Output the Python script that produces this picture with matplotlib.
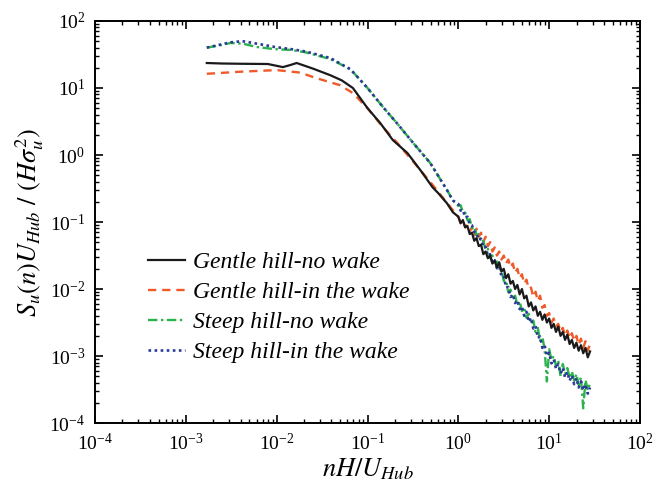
import matplotlib
matplotlib.use('Agg')
import matplotlib.pyplot as plt

plt.rcParams['font.family'] = ['Liberation Serif', 'DejaVu Serif']
plt.rcParams['mathtext.fontset'] = 'stix'
plt.rcParams['axes.unicode_minus'] = False

# low-frequency part of each spectrum (nH/U_hub, S_u U_hub / (H sigma_u^2))
gentle_nowake_f = [0.0017, 0.0025, 0.004, 0.008, 0.0117, 0.0141, 0.0166, 0.025, 0.039,
                   0.052, 0.069, 0.1, 0.138, 0.19, 0.275, 0.38, 0.52, 0.6, 0.75, 0.87]
gentle_nowake_s = [23.6, 23.2, 23.0, 22.8, 20.5, 22.0, 23.6, 19.5, 15.5,
                   13.0, 10.0, 5.0, 3.0, 1.67, 1.07, 0.6, 0.33, 0.27, 0.19, 0.14]

gentle_wake_f = [0.0017, 0.004, 0.01, 0.018, 0.0275, 0.05, 0.069, 0.1, 0.148, 0.214,
                 0.38, 0.52, 0.87]
gentle_wake_s = [16.3, 17.5, 18.5, 17.0, 14.0, 11.0, 8.4, 5.0, 2.6, 1.5,
                 0.6, 0.36, 0.15]

steep_f = [0.0017, 0.0025, 0.0031, 0.0042, 0.006, 0.0095, 0.0145, 0.021, 0.039,
           0.065, 0.1, 0.148, 0.21, 0.32, 0.49, 0.75, 0.87]
steep_nowake_s = [40, 44, 47, 46, 41, 38, 37, 34, 27,
                  19, 10, 5.2, 3.0, 1.5, 0.76, 0.30, 0.21]
steep_wake_s = [40, 45, 48, 50, 46, 41, 38, 35, 28,
                19, 10, 5.2, 3.0, 1.5, 0.76, 0.30, 0.21]

# high-frequency (noisy) part, shared frequency bins
f_hi = [1.0, 1.059, 1.122, 1.189, 1.259, 1.334, 1.413, 1.496, 1.585, 1.679,
        1.778, 1.884, 1.995, 2.113, 2.239, 2.371, 2.512, 2.661, 2.818, 2.985,
        3.162, 3.350, 3.548, 3.758, 3.981, 4.217, 4.467, 4.732, 5.012, 5.309,
        5.623, 5.957, 6.310, 6.683, 7.079, 7.499, 7.943, 8.414, 8.913, 9.441,
        10.0, 10.59, 11.22, 11.89, 12.59, 13.34, 14.13, 14.96, 15.85, 16.79,
        17.78, 18.84, 19.95, 21.13, 22.39, 23.71, 25.12, 26.61, 28.18]

gentle_nowake_hi = [0.120, 0.0955, 0.107, 0.0832, 0.0871, 0.0661, 0.0692, 0.0525, 0.0575, 0.0437,
                    0.0457, 0.0331, 0.0363, 0.0288, 0.0316, 0.0240, 0.0263, 0.0209, 0.0251, 0.0182,
                    0.0200, 0.0145, 0.0166, 0.0120, 0.0132, 0.0100, 0.0115, 0.00832, 0.0100, 0.00724,
                    0.00794, 0.00550, 0.00631, 0.00479, 0.00550, 0.00398, 0.00457, 0.00347, 0.00417, 0.00316,
                    0.00363, 0.00263, 0.00302, 0.00229, 0.00275, 0.00200, 0.00229, 0.00174, 0.00209, 0.00151,
                    0.00174, 0.00132, 0.00158, 0.00120, 0.00145, 0.00110, 0.00132, 0.000955, 0.00117]

gentle_wake_hi = [0.120, 0.0955, 0.105, 0.0832, 0.0912, 0.0724, 0.0832, 0.0631, 0.0794, 0.0603,
                  0.0692, 0.0501, 0.0603, 0.0437, 0.0501, 0.0363, 0.0417, 0.0316, 0.0363, 0.0275,
                  0.0316, 0.0240, 0.0275, 0.0209, 0.0240, 0.0174, 0.0200, 0.0145, 0.0166, 0.0120,
                  0.0138, 0.0100, 0.0105, 0.00759, 0.00912, 0.00661, 0.00794, 0.00525, 0.00575, 0.00398,
                  0.00437, 0.00316, 0.00363, 0.00275, 0.00302, 0.00229, 0.00263, 0.00200, 0.00240, 0.00182,
                  0.00219, 0.00166, 0.00200, 0.00145, 0.00182, 0.00132, 0.00166, 0.00120, 0.00151]

steep_nowake_hi = [0.174, 0.178, 0.141, 0.138, 0.107, 0.110, 0.0813, 0.0851, 0.0631, 0.0661,
                   0.0501, 0.0525, 0.0380, 0.0398, 0.0288, 0.0316, 0.0229, 0.0257, 0.0186, 0.0195,
                   0.0132, 0.0135, 0.00891, 0.00977, 0.00708, 0.00794, 0.00575, 0.00661, 0.00468, 0.00525,
                   0.00372, 0.00427, 0.00302, 0.00339, 0.00229, 0.00263, 0.00170, 0.00191, 0.00126, 0.000417,
                   0.00126, 0.000871, 0.00100, 0.000708, 0.000851, 0.000501, 0.000759, 0.000537, 0.000661, 0.000468,
                   0.000589, 0.000427, 0.000537, 0.000372, 0.000479, 0.000166, 0.000437, 0.000309, 0.000389]

steep_wake_hi = [0.186, 0.148, 0.151, 0.117, 0.120, 0.0912, 0.0891, 0.0708, 0.0692, 0.0537,
                 0.0562, 0.0417, 0.0427, 0.0316, 0.0331, 0.0251, 0.0269, 0.0204, 0.0219, 0.0155,
                 0.0158, 0.0105, 0.0107, 0.00759, 0.00832, 0.00617, 0.00676, 0.00501, 0.00550, 0.00398,
                 0.00457, 0.00324, 0.00372, 0.00257, 0.00282, 0.00186, 0.00195, 0.00132, 0.00145, 0.00100,
                 0.00112, 0.000776, 0.000891, 0.000646, 0.000759, 0.000550, 0.000661, 0.000479, 0.000575, 0.000427,
                 0.000513, 0.000380, 0.000468, 0.000339, 0.000417, 0.000309, 0.000380, 0.000275, 0.000339]

labels = ['Gentle hill-no wake', 'Gentle hill-in the wake',
          'Steep hill-no wake', 'Steep hill-in the wake']


def plot_spectra():
    fig = plt.figure(figsize=(6.54, 4.94), dpi=100)
    ax = fig.add_axes([0.1453, 0.1437, 0.8333, 0.8138])

    ax.plot(steep_f + f_hi, steep_nowake_s + steep_nowake_hi, color='#2bb24c',
            lw=1.7, ls=(0, (4, 1.5, 1, 1.5)), label=labels[2], zorder=3)
    ax.plot(steep_f + f_hi, steep_wake_s + steep_wake_hi, color='#2a3a96',
            lw=1.9, ls=(0, (1, 1.3)), label=labels[3], zorder=4)
    ax.plot(gentle_wake_f + f_hi, gentle_wake_s + gentle_wake_hi, color='#f05a28',
            lw=1.7, ls=(0, (3.5, 2.5)), label=labels[1], zorder=2)
    ax.plot(gentle_nowake_f + f_hi, gentle_nowake_s + gentle_nowake_hi, color='#1a1a1a',
            lw=1.6, ls='-', label=labels[0], zorder=5)

    ax.set_xscale('log')
    ax.set_yscale('log')
    ax.set_xlim(1e-4, 1e2)
    ax.set_ylim(1e-4, 1e2)

    ax.tick_params(which='both', direction='in', top=True, right=True, labelsize=14)
    ax.tick_params(which='major', length=6, width=1.2, pad=7)
    ax.tick_params(which='minor', length=3, width=1.0)
    for sp in ax.spines.values():
        sp.set_linewidth(1.4)

    ax.set_xlabel(r'$nH/U_{Hub}$', fontsize=19)
    ax.set_ylabel(r'$S_u(n)U_{Hub}\ /\ (H\sigma_u^2)$', fontsize=19)
    ax.xaxis.set_label_coords(0.5, -0.082)
    ax.yaxis.set_label_coords(-0.09, 0.5)

    h, l = ax.get_legend_handles_labels()
    order = [3, 2, 0, 1]
    ax.legend([h[i] for i in order], [l[i] for i in order], loc='upper left',
              bbox_to_anchor=(0.058, 0.48), frameon=False, handlelength=1.57,
              handletextpad=0.34, labelspacing=0.36,
              prop={'family': 'Liberation Serif', 'style': 'italic', 'size': 17})

    fig.savefig('out.png', dpi=100)


def main():
    plot_spectra()


if __name__ == '__main__':
    main()
